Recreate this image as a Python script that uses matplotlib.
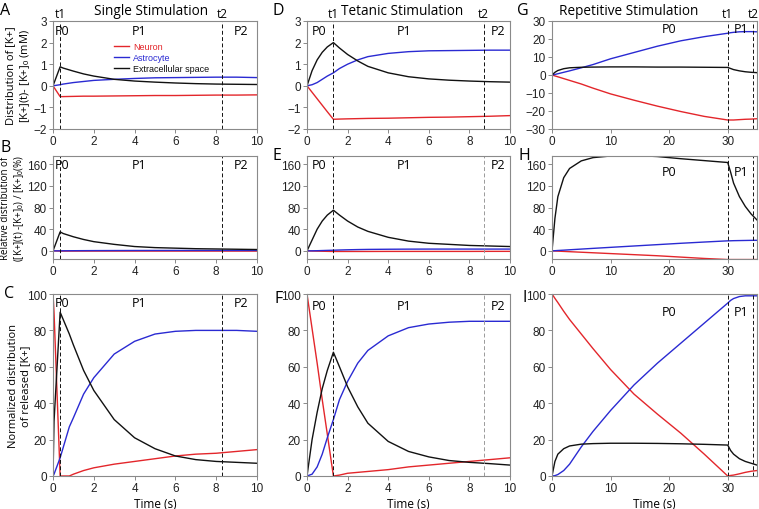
import numpy as np
import matplotlib
matplotlib.use("Agg")
import matplotlib.pyplot as plt

plt.rcParams['font.family'] = ['Liberation Sans', 'DejaVu Sans']
plt.rcParams['mathtext.fontset'] = 'custom'
plt.rcParams['mathtext.rm'] = 'Liberation Sans'

RED   = '#e3262b'
BLUE  = '#2a2ad2'
BLACK = '#111111'
GREY  = '#8a8a8a'

###
### Data
###
# single stimulation (A, B, C)
t_single       = [0, 0.35, 0.5, 1, 1.5, 2, 3, 4, 5, 6, 7, 8, 9, 10]
a_neuron       = [0, -0.5, -0.5, -0.49, -0.48, -0.48, -0.47, -0.46, -0.45, -0.45, -0.44, -0.43, -0.43, -0.42]
a_astro        = [0, 0.05, 0.08, 0.15, 0.2, 0.25, 0.3, 0.34, 0.37, 0.38, 0.39, 0.4, 0.4, 0.38]
a_ecs          = [0, 0.88, 0.82, 0.68, 0.55, 0.45, 0.3, 0.22, 0.17, 0.13, 0.1, 0.08, 0.07, 0.06]
b_neuron       = [0, -0.4, -0.4, -0.4, -0.4, -0.4, -0.4, -0.4, -0.4, -0.4, -0.4, -0.4, -0.4, -0.4]
b_astro        = [0, 0.1, 0.15, 0.3, 0.4, 0.5, 0.6, 0.7, 0.75, 0.8, 0.8, 0.8, 0.8, 0.8]
b_ecs          = [0, 35, 32, 26, 21, 17, 12, 8, 6, 5, 4, 3.5, 3, 2.5]
t_single_c     = [0, 0.05, 0.35, 0.8, 1, 1.5, 2, 3, 4, 5, 6, 7, 8, 9, 10]
c_neuron       = [100, 90, 0, 0, 1, 3, 4.5, 6.5, 8, 9.5, 11, 12, 12.5, 13.5, 14.5]
c_astro        = [0, 1, 10, 27, 32, 45, 54, 67, 74, 78, 79.5, 80, 80, 80, 79.5]
c_ecs          = [0, 30, 90, 78, 72, 58, 47, 31, 21, 15, 11, 9, 8, 7.5, 7]

# tetanic stimulation (D, E, F)
t_tetanic      = [0, 0.25, 0.5, 0.75, 1.0, 1.3, 1.6, 2, 2.5, 3, 4, 5, 6, 7, 8, 9, 10]
d_neuron       = [0, -0.3, -0.6, -0.9, -1.2, -1.55, -1.54, -1.53, -1.52, -1.51, -1.5, -1.48, -1.46, -1.45, -1.43, -1.41, -1.38]
d_astro        = [0, 0.05, 0.15, 0.3, 0.45, 0.6, 0.8, 1.0, 1.2, 1.35, 1.5, 1.58, 1.62, 1.63, 1.64, 1.65, 1.65]
d_ecs          = [0, 0.7, 1.2, 1.55, 1.8, 2.0, 1.75, 1.45, 1.15, 0.9, 0.6, 0.42, 0.32, 0.26, 0.22, 0.19, 0.17]
e_neuron       = [0, -0.3, -0.5, -0.7, -0.9, -1.1, -1.1, -1.1, -1.1, -1.1, -1.0, -1.0, -1.0, -1.0, -1.0, -0.9, -0.9]
e_astro        = [0, 0.1, 0.3, 0.6, 0.9, 1.2, 1.6, 2.0, 2.4, 2.7, 3.0, 3.2, 3.3, 3.3, 3.3, 3.3, 3.3]
e_ecs          = [0, 20, 40, 55, 66, 75, 66, 55, 44, 36, 25, 18, 14, 12, 10, 9, 8]
f_neuron       = [100, 81, 62, 42, 23, 0, 0.5, 1.5, 2, 2.5, 3.5, 5, 6, 7, 8, 9, 10]
f_astro        = [0, 1, 5, 12, 21, 31, 42, 52, 62, 69, 77, 81.5, 83.5, 84.5, 85, 85, 85]
f_ecs          = [0, 20, 35, 48, 58, 68, 60, 49, 38, 29, 19, 13.5, 10.5, 8.5, 7.5, 6.8, 6]

# repetitive stimulation (G, H, I)
t_rep          = [0, 0.5, 1, 2, 3, 5, 7, 10, 14, 18, 22, 26, 30, 30.5, 31, 32, 33, 34, 35]
g_neuron       = [0, -0.5, -1, -2, -3, -5, -7.3, -10.5, -14, -17.3, -20.3, -23, -25, -25, -25, -24.8, -24.6, -24.5, -24.3]
g_astro        = [0, 0.3, 0.7, 1.5, 2.3, 4, 5.8, 9, 12.5, 16, 19, 21.3, 23.2, 23.5, 23.7, 24, 24.1, 24.1, 24]
g_ecs          = [0, 1.5, 2.5, 3.5, 4, 4.3, 4.4, 4.5, 4.5, 4.4, 4.4, 4.3, 4.2, 3.6, 3.0, 2.3, 1.8, 1.5, 1.3]
h_neuron       = [0, -0.3, -0.5, -1, -1.5, -2.5, -3.5, -5, -7, -9, -11.5, -14, -16, -16, -16, -16, -16, -16, -16]
h_astro        = [0, 0.3, 0.7, 1.3, 2, 3.3, 4.6, 6.5, 9, 11.5, 14, 16.3, 18.5, 18.6, 18.8, 19, 19.2, 19.4, 19.5]
h_ecs          = [0, 60, 100, 135, 152, 166, 172, 175, 176, 174, 170, 166.5, 163, 145, 125, 100, 82, 68, 57]
i_neuron       = [100, 97.6, 95.3, 90.5, 86, 78, 70, 58.5, 45, 34, 23.5, 12, 0, 0.3, 0.5, 1.2, 2, 2.6, 3]
i_astro        = [0, 0.2, 0.8, 3, 6.5, 16, 24.5, 36, 50, 62, 73, 84, 95, 96.5, 97.5, 98.6, 99, 99, 99]
i_ecs          = [0, 8, 12, 15, 16.5, 17.5, 17.8, 18, 18, 17.9, 17.7, 17.4, 17, 14, 12, 9.5, 8, 7, 6]

t_marks = {'single': (0.35, 8.3), 'tetanic': (1.3, 8.7), 'rep': (30, 34.3)}
titles  = ['Single Stimulation', 'Tetanic Stimulation', 'Repetitive Stimulation']
letters = ['A', 'B', 'C', 'D', 'E', 'F', 'G', 'H', 'I']

ylabels = ['Distribution of [K+]\n[K+](t)- [K+]$_0$ (mM)',
           'Relative distribution of\n([K+](t) -[K+]$_0$) / [K+]$_0$(%)',
           'Normalized distribution\nof released [K+]']
ylabel_size = [8, 7, 8]
ylabel_x    = [-0.105, -0.13, -0.105]

###
### Layout (pixel boxes of the reference)
###
W, H = 759, 510
cols = [(53, 204), (307, 203), (552, 205)]
rows = [(22, 130), (157, 260), (295, 477)]
title_x = [0.48, 0.47, 0.375]
letter_xy = [[(0, 3), (0, 140), (4, 286)],
             [(273, 3), (273, 148), (274, 291)],
             [(517, 3), (519, 148), (522, 290)]]
# phase label x positions and heights (axes fraction) per column / row
p_x = [[0.45, 4.2, 9.2], [0.6, 4.8, 9.4], [20, 32.2]]
p_y = [[0.91, 0.92, 0.955], [0.91, 0.92, 0.935], [0.93, 0.85, 0.905]]

fig = plt.figure(figsize=(W/100, H/100), dpi=100)

def make_ax(ic, ir):
    x0, w = cols[ic]
    top, bot = rows[ir]
    ax = fig.add_axes([x0/W, 1-bot/H, w/W, (bot-top)/H])
    for s in ax.spines.values():
        s.set_color(GREY)
        s.set_linewidth(0.8)
    ax.tick_params(colors=GREY, labelcolor='#222222', labelsize=8.5,
                   length=3, width=0.7, pad=1.5)
    return ax

def draw(ax, t, neu, ast, ecs, lw=1.0, label=False):
    ax.plot(t, neu, color=RED, lw=lw, label='Neuron' if label else None)
    ax.plot(t, ast, color=BLUE, lw=lw, label='Astrocyte' if label else None)
    ax.plot(t, ecs, color=BLACK, lw=lw, label='Extracellular space' if label else None)

def marks(ax, key, t2color=BLACK):
    t1, t2 = t_marks[key]
    ax.axvline(t1, color=BLACK, ls=(0, (4, 2.5)), lw=0.7)
    ax.axvline(t2, color=t2color, ls=(0, (4, 2.5)), lw=0.7)

def plabels(ax, xs, yfrac):
    for x, n in zip(xs, ('P0', 'P1', 'P2')):
        ax.text(x, yfrac, n, transform=ax.get_xaxis_transform(),
                ha='center', va='center', fontsize=9, family='Open Sans')

panels = [
    # (col, row, t, neuron, astro, ecs, ylim, yticks)
    (0, 0, t_single, a_neuron, a_astro, a_ecs, (-2, 3), [-2, -1, 0, 1, 2, 3]),
    (0, 1, t_single, b_neuron, b_astro, b_ecs, (-15, 175), [0, 40, 80, 120, 160]),
    (0, 2, t_single_c, c_neuron, c_astro, c_ecs, (0, 100), [0, 20, 40, 60, 80, 100]),
    (1, 0, t_tetanic, d_neuron, d_astro, d_ecs, (-2, 3), [-2, -1, 0, 1, 2, 3]),
    (1, 1, t_tetanic, e_neuron, e_astro, e_ecs, (-15, 175), [0, 40, 80, 120, 160]),
    (1, 2, t_tetanic, f_neuron, f_astro, f_ecs, (0, 100), [0, 20, 40, 60, 80, 100]),
    (2, 0, t_rep, g_neuron, g_astro, g_ecs, (-30, 30), [-30, -20, -10, 0, 10, 20, 30]),
    (2, 1, t_rep, h_neuron, h_astro, h_ecs, (-15, 175), [0, 40, 80, 120, 160]),
    (2, 2, t_rep, i_neuron, i_astro, i_ecs, (0, 100), [0, 20, 40, 60, 80, 100]),
]
keys = ['single', 'tetanic', 'rep']

for k, (ic, ir, t, neu, ast, ecs, ylim, yt) in enumerate(panels):
    ax = make_ax(ic, ir)
    draw(ax, t, neu, ast, ecs, label=(k == 0))
    key = keys[ic]
    marks(ax, key, t2color=('#9a9a9a' if ic == 1 and ir > 0 else BLACK))
    ax.set_ylim(*ylim)
    ax.set_yticks(yt)
    if ic < 2:
        ax.set_xlim(0, 10)
        ax.set_xticks([0, 2, 4, 6, 8, 10])
    else:
        ax.set_xlim(0, 35)
        ax.set_xticks([0, 10, 20, 30])
    if ir == 2:
        ax.set_xlabel('Time (s)', fontsize=8.5, family='Open Sans', labelpad=2)
    if ic == 0:
        ax.set_ylabel(ylabels[ir], fontsize=ylabel_size[ir], family='Open Sans',
                      linespacing=1.15)
        ax.yaxis.set_label_coords(ylabel_x[ir], 0.5)

    plabels(ax, p_x[ic], p_y[ic][ir])

    # t1 / t2 on top row, titles
    if ir == 0:
        t1, t2 = t_marks[key]
        for x, n in ((t1, 't1'), (t2, 't2')):
            ax.text(x, 1.01, n, transform=ax.get_xaxis_transform(),
                    ha='center', va='bottom', fontsize=8.5, family='Open Sans')
        ax.text(title_x[ic], 1.10, titles[ic], transform=ax.transAxes,
                ha='center', va='center', fontsize=9.8, family='Open Sans')

    if k == 0:
        ax.legend(loc='upper left', bbox_to_anchor=(0.27, 0.86),
                  frameon=False, fontsize=6.5, handlelength=1.6,
                  handletextpad=0.5, labelspacing=0.2,
                  labelcolor='linecolor', borderpad=0.2)

    # panel letter
    lx, ly = letter_xy[ic][ir]
    fig.text(lx/W, 1-ly/H, letters[3*ic+ir], fontsize=11.5,
             family='Open Sans', va='top', ha='left')

fig.savefig('out.png', dpi=100)
